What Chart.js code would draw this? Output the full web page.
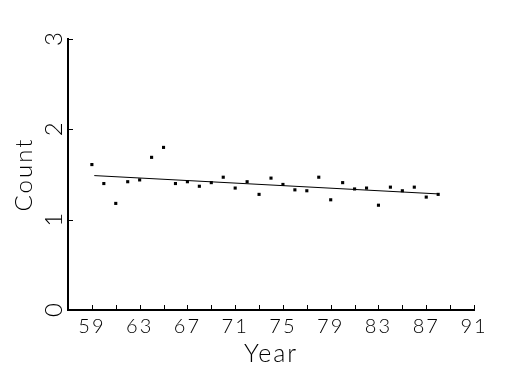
<!DOCTYPE html>
<html>
<head>
<meta charset="utf-8">
<script src="https://cdn.jsdelivr.net/npm/chart.js@4/dist/chart.umd.min.js"></script>
<style>
  body { margin: 0; background: #fff; }
</style>
</head>
<body>
<canvas id="chart" width="525" height="375"></canvas>
<script>
// data
const years = [59, 60, 61, 62, 63, 64, 65, 66, 67, 68, 69, 70, 71, 72, 73,
               74, 75, 76, 77, 78, 79, 80, 81, 82, 83, 84, 85, 86, 87, 88];
const counts = [1.61, 1.40, 1.18, 1.42, 1.44, 1.69, 1.80, 1.40, 1.42, 1.37,
                1.41, 1.47, 1.35, 1.42, 1.28, 1.46, 1.39, 1.33, 1.32, 1.47,
                1.22, 1.41, 1.34, 1.35, 1.16, 1.36, 1.32, 1.36, 1.25, 1.28];
// fitted trend line (end points)
const trendYears = [59.2, 88];
const trendCounts = [1.488, 1.285];

const xTicks = [59, 61, 63, 65, 67, 69, 71, 73, 75, 77, 79, 81, 83, 85, 87, 89, 91];
const xLabels = [59, 63, 67, 71, 75, 79, 83, 87, 91];
const yTicks = [0, 1, 2, 3];

const FONT = 'Lato';

// wide, thin lettering like the original plotter font
const spacing = {
  id: 'spacing',
  beforeDraw(chart) { chart.ctx.letterSpacing = '2px'; }
};

// tick marks point inside the plot, y labels are turned on their side
const innerTicks = {
  id: 'innerTicks',
  afterDraw(chart) {
    const { ctx, chartArea, scales: { x, y } } = chart;
    ctx.save();
    ctx.strokeStyle = '#000';
    ctx.lineWidth = 1;
    ctx.beginPath();
    x.ticks.forEach(t => {
      const px = Math.round(x.getPixelForValue(t.value)) + 0.5;
      ctx.moveTo(px, chartArea.bottom);
      ctx.lineTo(px, chartArea.bottom - 5);
    });
    y.ticks.forEach(t => {
      const py = Math.round(y.getPixelForValue(t.value)) + 0.5;
      ctx.moveTo(chartArea.left, py);
      ctx.lineTo(chartArea.left + 5, py);
    });
    ctx.stroke();

    ctx.fillStyle = '#000';
    ctx.font = '300 24px ' + FONT;
    ctx.letterSpacing = '0px';
    ctx.textAlign = 'center';
    ctx.textBaseline = 'middle';
    y.ticks.forEach(t => {
      ctx.save();
      ctx.translate(chartArea.left - 14, y.getPixelForValue(t.value));
      ctx.rotate(-Math.PI / 2);
      ctx.fillText(String(t.value), 0, 0);
      ctx.restore();
    });
    ctx.restore();
  }
};

new Chart(document.getElementById('chart'), {
  type: 'scatter',
  data: {
    datasets: [
      {
        label: 'Count',
        data: years.map((yr, i) => ({ x: yr, y: counts[i] })),
        pointStyle: 'rect',
        pointRadius: 2.2,
        pointBorderWidth: 0,
        backgroundColor: '#000',
        borderColor: '#000'
      },
      {
        type: 'line',
        label: 'Trend',
        data: trendYears.map((yr, i) => ({ x: yr, y: trendCounts[i] })),
        borderColor: '#000',
        borderWidth: 1,
        pointRadius: 0,
        fill: false
      }
    ]
  },
  options: {
    responsive: false,
    devicePixelRatio: 1,
    animation: false,
    layout: { padding: { top: 39, right: 51, left: 0, bottom: 0 } },
    plugins: {
      legend: { display: false },
      tooltip: { enabled: false }
    },
    scales: {
      x: {
        type: 'linear',
        min: 57,
        max: 91,
        grid: { display: false, drawTicks: false, tickLength: 0 },
        border: { display: true, color: '#000', width: 2 },
        afterBuildTicks: s => { s.ticks = xTicks.map(v => ({ value: v })); },
        afterFit: s => { s.height = 65; },
        ticks: {
          autoSkip: false,
          maxRotation: 0,
          padding: 5,
          color: '#000',
          font: { family: FONT, size: 20, weight: '300' },
          callback: v => xLabels.includes(v) ? String(v) : ''
        },
        title: {
          display: true,
          text: 'Year',
          color: '#000',
          font: { family: FONT, size: 25, weight: '300' },
          padding: { top: 0, bottom: 6 }
        }
      },
      y: {
        min: 0,
        max: 3,
        grid: { display: false, drawTicks: false, tickLength: 0 },
        border: { display: true, color: '#000', width: 2 },
        afterBuildTicks: s => { s.ticks = yTicks.map(v => ({ value: v })); },
        afterFit: s => { s.width = 68; },
        ticks: { display: false },
        title: {
          display: true,
          text: 'Count',
          color: '#000',
          font: { family: FONT, size: 24, weight: '300' },
          padding: { top: 10, bottom: 0 }
        }
      }
    }
  },
  plugins: [spacing, innerTicks]
});
</script>
</body>
</html>
